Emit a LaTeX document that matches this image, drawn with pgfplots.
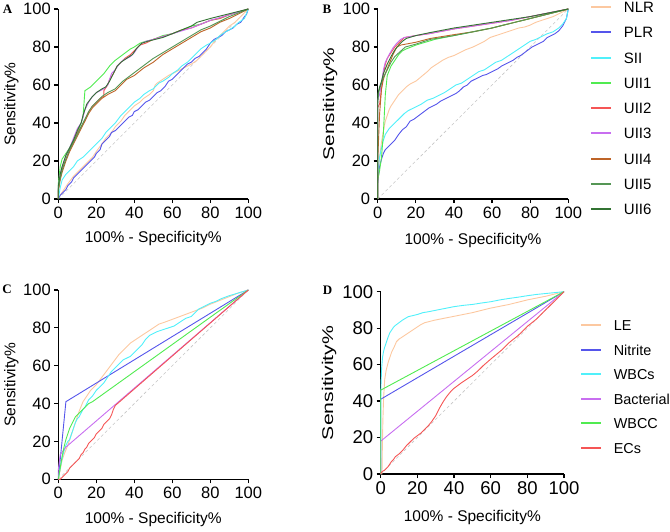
\documentclass[border=0pt]{standalone}
\usepackage{fontspec}
\setmainfont{Liberation Sans}
\newfontfamily\lserif{Liberation Serif}
\usepackage{pgfplots}
\pgfplotsset{compat=1.18}
\definecolor{cNLR}{RGB}{252,200,160}
\definecolor{cPLR}{RGB}{85,85,235}
\definecolor{cSII}{RGB}{80,240,250}
\definecolor{cUIIa}{RGB}{80,235,80}
\definecolor{cUIIb}{RGB}{245,85,85}
\definecolor{cUIIc}{RGB}{200,110,240}
\definecolor{cUIId}{RGB}{190,100,40}
\definecolor{cUIIe}{RGB}{85,150,85}
\definecolor{cUIIf}{RGB}{50,115,50}
\pgfplotsset{
  roc/.style={
    scale only axis, axis lines=left,
    axis line style={-, line width=1.2pt, black},
    xmin=0, xmax=100, ymin=0, ymax=100, clip=false,
    xtick={0,20,...,100}, ytick={0,20,...,100},
    tick align=outside, major tick length=4pt,
    tick style={black, line width=1.2pt},
    /pgf/number format/assume math mode=true,
    ticklabel style={font=\fontsize{16.5}{18}\selectfont},
    label style={font=\fontsize{15.5}{18}\selectfont},
    xlabel={100\% - Specificity\%},
    every axis plot/.append style={line width=0.9pt, no markers},
    legend style={draw=none, fill=none, inner sep=0pt, anchor=north west,
      font=\fontsize{15}{17}\selectfont, column sep=11.7pt,
      nodes={inner sep=0pt, text height=11pt, text depth=0pt}},
    legend cell align=left,
    legend image code/.code={\draw[##1, line width=2pt] (0pt,0pt) -- (20pt,0pt);},
  },
  diag/.style={gray!45, line width=0.6pt, dash pattern=on 3pt off 2.5pt, forget plot},
}
\begin{document}
\begin{tikzpicture}[x=1pt,y=1pt]
\useasboundingbox (0,0) rectangle (670,531);
% ---------------- A
\begin{axis}[roc, at={(58.3pt,332pt)}, anchor=south west, width=190pt, height=190pt,
  ylabel={Sensitivity\%},
  xlabel style={at={(axis description cs:0.5,-0.21)}, anchor=center},
  ylabel style={at={(axis description cs:-0.247,0.5)}, anchor=center}]
\addplot[diag] coordinates {(0,0) (100,100)};
\addplot[cNLR] coordinates {(0,0)(1,2)(3,5)(5,8)(8,12)(10,14)(13,17)(15,19)(18,22)(20,25)(23,29)(25,32)(28,35)(30,38)(33,41)(35,44)(38,47)(40,49)(43,51)(45,53)(48,55)(50,57)(51,60)(52,61)(55,63)(58,65)(62,67)(66,69)(70,71)(73,73)(75,75)(78,78)(80,80)(83,84)(85,86)(88,89)(90,91)(93,93)(95,95)(98,98)(100,100)};
\addplot[cPLR] coordinates {(0,0)(1,2)(2,3)(4,5)(5,7)(7,9)(8,11)(10,13)(12,15)(14,17)(15,18)(17,20)(19,22)(20,24)(22,26)(23,29)(25,31)(27,33)(28,35)(30,36)(32,38)(34,40)(35,41)(37,43)(39,44)(40,46)(42,47)(44,49)(46,51)(48,52)(50,54)(52,56)(54,57)(56,59)(58,62)(60,63)(62,65)(64,67)(66,69)(68,71)(70,72)(72,74)(74,75)(76,77)(78,79)(80,82)(82,84)(84,85)(86,86)(88,88)(90,89)(92,90)(94,92)(96,93)(98,96)(99,97)(100,100)};
\addplot[cSII] coordinates {(0,0)(1,6)(2,10)(4,13)(6,15)(8,17)(10,20)(13,22)(15,24)(18,27)(20,29)(23,32)(25,35)(28,38)(30,40)(33,44)(35,46)(38,49)(40,51)(43,53)(45,55)(48,57)(50,58)(53,61)(55,62)(58,64)(60,66)(63,68)(65,70)(68,72)(70,74)(73,77)(75,79)(78,81)(80,82)(83,84)(85,86)(88,88)(90,89)(93,91)(95,93)(98,95)(100,100)};
\addplot[cUIIa] coordinates {(0,0)(0,8)(1,17)(2,21)(4,24)(6,27)(8,31)(10,35)(12,40)(13,43)(14,57)(17,59)(20,62)(24,66)(27,70)(30,73)(34,76)(38,79)(40,80)(43,82)(46,83)(50,84)(55,86)(60,87)(65,89)(70,91)(75,92)(80,94)(85,95)(90,97)(95,98.5)(100,100)};
\addplot[cUIIb] coordinates {(0,0)(0,5)(1,12)(2,16)(4,21)(6,26)(8,30)(10,35)(12,38)(14,41)(16,46)(18,49)(20,51)(22,53)(24,54)(24,57)(26,60)(27,63)(29,66)(31,70)(33,72)(35,74)(38,76)(40,78)(43,81)(46,82)(50,84)(55,85.5)(60,87)(65,89)(70,90)(75,92)(80,94)(85,95)(90,97)(95,98.5)(100,100)};
\addplot[cUIIc] coordinates {(0,0)(0,6)(1,13)(2,17)(4,23)(6,27)(8,32)(10,37)(12,40)(13,43)(14,47)(16,51)(18,54)(20,56)(22,57)(24,58)(26,60)(27,63)(28,66)(30,68)(32,71)(34,73)(36,74)(38,75)(40,77)(42,80)(44,82)(46,83)(50,84)(55,85.5)(60,87)(65,88.5)(70,90)(75,92)(80,94)(85,95.5)(90,97)(95,98.5)(100,100)};
\addplot[cUIId] coordinates {(0,0)(0,4)(1,10)(2,14)(4,20)(6,25)(8,29)(10,33)(12,37)(14,41)(16,45)(18,48)(20,50)(23,53)(26,55)(30,57)(33,60)(36,63)(40,65)(45,69)(50,72)(55,76)(60,79)(65,82)(70,85)(75,88)(80,90)(85,93)(90,95)(95,97.5)(100,100)};
\addplot[cUIIe] coordinates {(0,0)(0,5)(1,11)(2,15)(4,21)(6,26)(8,30)(10,34)(12,38)(14,42)(16,46)(18,49)(20,51)(23,54)(26,56)(30,58)(34,62)(38,65)(42,68)(46,71)(50,74)(55,77)(60,80)(65,83)(70,86)(75,89)(80,91)(85,93.5)(90,96)(95,98)(100,100)};
\addplot[cUIIf] coordinates {(0,0)(0,7)(1,13)(2,17)(4,23)(6,27)(8,31)(10,36)(12,40)(13,44)(15,50)(18,54)(20,56)(23,58)(25,59)(27,62)(29,66)(31,70)(33,72)(36,74)(39,76)(41,79)(44,82)(47,83)(55,85)(60,87)(65,89)(70,91)(73,93)(80,95)(90,97.5)(100,100)};
\end{axis}
% ---------------- B
\begin{axis}[roc, at={(377.7pt,332pt)}, anchor=south west, width=190.6pt, height=190pt,
  ylabel={\scalebox{1.35}[1]{Sensitivity\%}},
  xlabel style={at={(axis description cs:0.5,-0.219)}, anchor=center},
  ylabel style={at={(axis description cs:-0.25,0.5)}, anchor=center},
  legend style={at={(rel axis cs:1.114,1.041)}, row sep=14.3pt},
  legend columns=1]
\addplot[diag] coordinates {(0,0) (100,100)};
\addplot[cNLR] coordinates {(0,0)(0,8)(0.5,15)(1,22)(2,30)(3,36)(4,41)(5,44)(6,47)(7,49)(9,52)(11,55)(13,57)(15,59)(17,60.5)(20,62)(23,64.5)(26,67)(28,69)(31,71)(34,73)(37,74.5)(40,75.5)(43,77)(46,78.5)(50,80)(53,81.5)(56,83)(59,85)(62,86)(65,87)(68,88)(71,89)(74,90)(77,90.5)(80,91.5)(83,93)(86,94)(89,95)(92,96)(95,97.5)(98,99)(100,100)};
\addlegendentry{NLR}
\addplot[cPLR] coordinates {(0,0)(0,8)(0.5,13)(1,17)(2,21)(3,24)(4,26)(5,27)(7,29)(9,31)(11,34)(13,36.5)(15,38)(17,41)(19,42)(21,43.5)(23,45)(25,46.5)(27,48)(29,49)(31,50)(33,51.5)(35,52.5)(37,53.5)(39,54.5)(41,55.5)(43,57)(45,59)(47,60)(49,62)(51,63)(53,64)(55,65)(57,65.5)(59,66.5)(61,67.5)(63,68.5)(65,70)(67,71)(69,72)(71,73)(73,74.5)(75,75.5)(77,77)(79,78.5)(81,80)(83,81)(85,82)(87,83)(89,85)(91,86)(93,87)(95,88.5)(97,91)(99,95)(100,100)};
\addlegendentry{PLR}
\addplot[cSII] coordinates {(0,0)(0,12)(0.5,18)(1,22)(2,27)(3,31)(4,34)(6,37)(8,39)(10,41)(12,43)(14,45)(16,46.5)(18,47.5)(20,48.5)(23,50)(26,52)(29,53)(32,54.5)(35,56)(38,58)(41,60)(44,61)(47,63)(50,65)(53,67)(56,68)(59,70)(62,72)(65,73)(68,75)(71,77)(74,79)(77,81)(80,83)(83,84)(86,85.5)(89,87)(92,88)(95,90)(97,92)(99,95)(100,100)};
\addlegendentry{SII}
\addplot[cUIIa] coordinates {(0,0)(0,10)(1,15)(2,22)(3,35)(4,55)(5,65)(7,70)(9,73)(11,76)(13,78)(15,79)(20,81)(30,84)(40,86)(50,88)(60,90)(70,92.5)(80,95)(90,97.5)(100,100)};
\addlegendentry{UII1}
\addplot[cUIIb] coordinates {(0,0)(0,48)(1,50)(2,58)(3,66)(4,71)(5,74)(7,77)(9,80)(11,82)(13,84)(14,85)(17,85.5)(20,86)(27,87)(40,89.5)(50,91)(60,92.5)(70,94)(80,96)(90,98)(100,100)};
\addlegendentry{UII2}
\addplot[cUIIc] coordinates {(0,0)(0,52)(1,55)(2,61)(3,68)(4,72)(6,76)(8,79.5)(10,82)(12,84)(14,85)(20,86)(27,87)(40,89.5)(50,91)(60,92.5)(70,94)(80,96)(90,98)(100,100)};
\addlegendentry{UII3}
\addplot[cUIId] coordinates {(0,0)(0,20)(1,45)(2,58)(3,63)(4,66)(6,71)(8,76)(10,80)(12,81)(20,82.5)(27.6,84.5)(40,86.5)(50,88)(60,90)(70,92.5)(80,95)(90,97.5)(100,100)};
\addlegendentry{UII4}
\addplot[cUIIe] coordinates {(0,0)(0,50)(0.5,56)(1,58)(2,61)(3,64)(5,68)(7,72)(9,75)(11.7,77.5)(14.5,80)(20,81.5)(27.6,84)(40,86)(50,88)(60,90)(70,92.5)(80,95)(90,97.5)(100,100)};
\addlegendentry{UII5}
\addplot[cUIIf] coordinates {(0,0)(0,55)(1,59)(2,62)(3,66)(5,71)(7,75)(9,78.5)(11,81)(13,83)(15,84.5)(20,86)(27,87.5)(40,90)(50,91.5)(60,93)(70,94.5)(80,96)(90,98)(100,100)};
\addlegendentry{UII6}
\end{axis}
% ---------------- C
\begin{axis}[roc, at={(58.3pt,51.7pt)}, anchor=south west, width=190pt, height=189.3pt,
  ylabel={Sensitivity\%},
  xlabel style={at={(axis description cs:0.5,-0.211)}, anchor=center},
  ylabel style={at={(axis description cs:-0.247,0.5)}, anchor=center}]
\addplot[diag] coordinates {(0,0) (100,100)};
\addplot[cNLR] coordinates {(0,0)(1,5)(2,10)(3,13)(5,18)(7,24)(9,30)(11,36)(13,41)(15,44)(17,47)(20,50)(23,54)(26,58)(29,62)(32,66)(35,69)(38,72)(41,74)(44,76)(47,78)(50,80)(53,82)(56,83)(60,84.5)(64,86)(68,87.5)(72,89)(76,90.5)(80,92.5)(85,94.5)(90,96.5)(95,98.5)(100,100)};
\addplot[cPLR] coordinates {(0,0)(4,41)(100,100)};
\addplot[cSII] coordinates {(0,0)(1,6)(2,11)(3,15)(4,18)(5,20)(6,21)(7,24)(8,27)(9,30)(10,32)(11,33)(12,35)(13,37)(14,38)(15,40)(16,42)(17,43)(18,44)(20,47)(22,49)(24,51)(26,54)(28,57)(30,59)(32,61)(34,63)(36,64)(38,65)(40,67)(42,69)(44,71)(46,74)(48,76)(50,77)(52,78)(55,79)(58,80)(61,81)(64,83)(67,85)(70,86)(72,88)(74,90)(76,91)(78,92)(80,93)(83,94)(86,95.5)(90,97)(95,98.5)(100,100)};
\addplot[cUIIc] coordinates {(0,0)(0,5)(1,13)(4,17)(100,100)};
\addplot[cUIIa] coordinates {(0,0)(1,6)(2,12)(3,17)(4,21)(5,24)(6,27)(7,29)(8,31)(9,33)(10,34)(12,36)(14,38)(16,40)(18,41)(100,100)};
\addplot[cUIIb] coordinates {(0,0)(1,0)(2,1)(3,2)(4,3)(5,4)(6,6)(7,7)(8,8)(9,9)(10,10)(11,11)(12,13)(13,14)(14,16)(15,17)(16,19)(17,20)(18,21)(19,22)(20,24)(21,25)(22,26)(23,27)(24,29)(25,30)(26,31)(27,32)(28,34)(29,37)(30,39)(100,100)};
\end{axis}
% ---------------- D
\begin{axis}[roc, at={(380.7pt,57pt)}, anchor=south west, width=183.3pt, height=182.3pt,
  ticklabel style={font=\fontsize{18.5}{20}\selectfont},
  ylabel={\scalebox{1.37}[1]{Sensitivity\%}},
  xlabel style={at={(axis description cs:0.5,-0.2375)}, anchor=center},
  ylabel style={at={(axis description cs:-0.282,0.5)}, anchor=center},
  legend style={at={(rel axis cs:1.087,0.8475)}, row sep=13.5pt,
    font=\fontsize{14.4}{16}\selectfont}]
\addplot[diag] coordinates {(0,0) (100,100)};
\addplot[cNLR] coordinates {(0,0)(0.7,0)(0.9,15)(1.2,30)(1.6,42)(2.2,52)(3,57)(4,61)(5,64)(6,67)(7.5,70)(8.6,72.6)(10,74)(13,76)(16,78)(19,80)(22,82)(24,83)(29.5,84.4)(40,86.5)(50,88.5)(60,91)(70,93)(80,95.5)(90,97.5)(100,100)};
\addlegendentry{LE}
\addplot[cPLR] coordinates {(0,0)(0,41)(100,100)};
\addlegendentry{Nitrite}
\addplot[cSII] coordinates {(0,0)(0,40)(0.2,50)(0.5,58)(1,64)(1.5,67)(2,69)(3,72)(4,75)(5,77.5)(6,79)(7,80.5)(8,81.5)(10,83)(12,84.5)(15,86.3)(18,87)(20,87.5)(23,88.5)(26,89)(30,89.8)(35,90.8)(40,91.8)(45,92.5)(50,93)(55,93.8)(60,94.5)(65,95.5)(70,96.3)(75,97)(80,97.8)(85,98.5)(90,99)(95,99.5)(100,100)};
\addlegendentry{WBCs}
\addplot[cUIIc] coordinates {(0,0)(0,18)(100,100)};
\addlegendentry{Bacterial}
\addplot[cUIIa] coordinates {(0,0)(0,46)(100,100)};
\addlegendentry{WBCC}
\addplot[cUIIb] coordinates {(0,0)(0.5,1)(1,1.5)(2,2)(3,3)(4,4)(5,5.5)(6,7)(7,8)(8,9.5)(10,11)(12,13)(14,15.5)(16,17.5)(18,19.5)(20,21)(22,22.5)(24,24.5)(26,26.5)(28,29)(30,32)(32,36)(34,39.5)(36,42.5)(38,45)(40,47)(42,48.5)(44,50)(47,52)(50,54)(53,56.5)(56,59.5)(60,63)(63,65.5)(66,68)(70,72)(75,76)(80,81)(85,85)(90,90)(95,95)(100,100)};
\addlegendentry{ECs}
\end{axis}
% panel letters
\node[font=\lserif\bfseries\fontsize{13}{14}\selectfont] at (7.5,521.5) {A};
\node[font=\lserif\bfseries\fontsize{13}{14}\selectfont] at (327,522) {B};
\node[font=\lserif\bfseries\fontsize{13}{14}\selectfont] at (7,242) {C};
\node[font=\lserif\bfseries\fontsize{13}{14}\selectfont] at (327.5,241) {D};
\end{tikzpicture}
\end{document}
